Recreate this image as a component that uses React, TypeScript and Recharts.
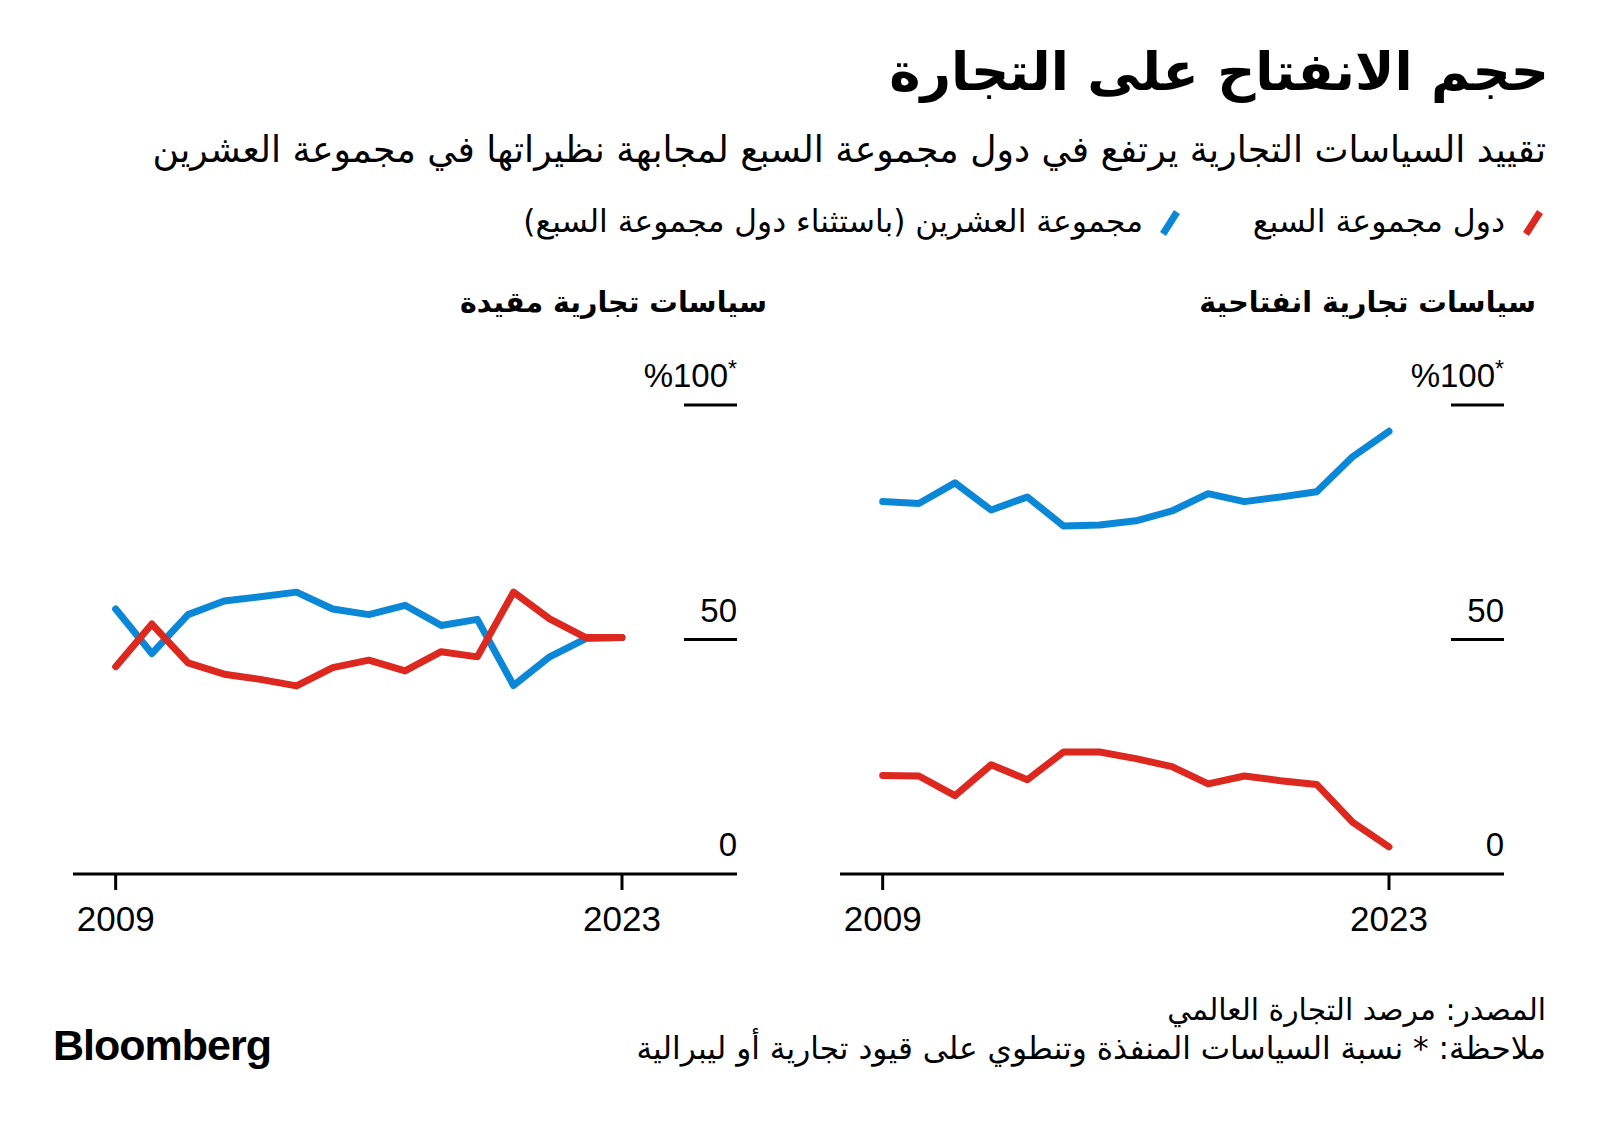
import { LineChart, Line, XAxis, YAxis } from "recharts";

const years = [2009, 2010, 2011, 2012, 2013, 2014, 2015, 2016, 2017, 2018, 2019, 2020, 2021, 2022, 2023];

// liberalising ("open") trade policies, share in %
const g7Liberal = [21.0, 20.9, 16.7, 23.3, 20.1, 26.0, 26.0, 24.6, 22.9, 19.2, 20.9, 19.9, 19.1, 11.0, 5.8];
const g20Liberal = [79.4, 79.0, 83.4, 77.6, 80.4, 74.2, 74.4, 75.3, 77.4, 81.1, 79.4, 80.4, 81.5, 89.0, 94.4];

// harmful ("restrictive") trade policies, share in %
const g7Harmful = [44.2, 53.3, 45.0, 42.6, 41.5, 40.1, 44.0, 45.6, 43.3, 47.4, 46.3, 60.1, 54.4, 50.4, 50.4];
const g20Harmful = [56.5, 47.0, 55.3, 58.2, 59.1, 60.1, 56.5, 55.3, 57.3, 53.0, 54.3, 40.2, 46.3, 50.2, 50.4];

const xTicks = [2009, 2023];
const yTicks = [0, 50, 100];

const RED = "#dc281e";
const BLUE = "#0b87d8";
const AR = "'DejaVu Sans', sans-serif";
const NUM = "'Liberation Sans', Arial, sans-serif";

const liberalData = years.map((year, i) => ({ year, g7: g7Liberal[i], g20: g20Liberal[i] }));
const harmfulData = years.map((year, i) => ({ year, g7: g7Harmful[i], g20: g20Harmful[i] }));

function YTick(props: any) {
  const { x, y, payload } = props;
  const v = payload.value;
  return (
    <g>
      {v !== 0 && <line x1={x - 53} x2={x} y1={y} y2={y} stroke="#000" strokeWidth={3} />}
      <text x={x} y={y - 18} textAnchor="end" fontSize={33} fontFamily={NUM} fill="#000">
        {v === 100 ? (
          <>
            %100
            <tspan dy={-10} fontSize={23}>*</tspan>
          </>
        ) : (
          v
        )}
      </text>
    </g>
  );
}

function Panel({ data, left }: { data: any[]; left: number }) {
  return (
    <div style={{ position: "absolute", left, top: 330 }}>
      <LineChart width={720} height={620} data={data} margin={{ top: 75, right: 35, bottom: 16, left: 20 }}>
        <XAxis
          dataKey="year"
          type="number"
          domain={[2007.82, 2026.18]}
          allowDataOverflow
          ticks={xTicks}
          interval={0}
          height={60}
          axisLine={{ stroke: "#000", strokeWidth: 3 }}
          tickLine={{ stroke: "#000", strokeWidth: 3 }}
          tickSize={16}
          tickMargin={16}
          tick={{ fontSize: 35, fill: "#000", fontFamily: NUM }}
        />
        <YAxis
          orientation="right"
          width={1}
          domain={[0, 100]}
          ticks={yTicks}
          interval={0}
          axisLine={false}
          tickLine={false}
          tickSize={0}
          tickMargin={0}
          tick={<YTick />}
        />
        <Line dataKey="g20" stroke={BLUE} strokeWidth={7} dot={false} strokeLinecap="round" strokeLinejoin="round" isAnimationActive={false} />
        <Line dataKey="g7" stroke={RED} strokeWidth={7} dot={false} strokeLinecap="round" strokeLinejoin="round" isAnimationActive={false} />
      </LineChart>
    </div>
  );
}

function Txt({ right, cy, size, bold, children }: { right: number; cy: number; size: number; bold?: boolean; children: any }) {
  return (
    <div
      dir="rtl"
      style={{
        position: "absolute",
        right: 1600 - right,
        top: cy,
        transform: "translateY(-50%)",
        fontFamily: AR,
        fontSize: size,
        fontWeight: bold ? 700 : 400,
        lineHeight: 1.2,
        whiteSpace: "nowrap",
        color: "#000",
      }}
    >
      {children}
    </div>
  );
}

function Slash({ color, x, cy }: { color: string; x: number; cy: number }) {
  return (
    <svg style={{ position: "absolute", left: x - 12, top: cy - 16 }} width={24} height={32}>
      <line x1={5} y1={27} x2={19} y2={5} stroke={color} strokeWidth={7} />
    </svg>
  );
}

export default function App() {
  return (
    <div style={{ position: "absolute", left: 0, top: 0, width: 1600, height: 1125, background: "#fff", overflow: "hidden" }}>
      <Txt right={1549} cy={72} size={53} bold>حجم الانفتاح على التجارة</Txt>
      <Txt right={1546} cy={150} size={36.2}>تقييد السياسات التجارية يرتفع في دول مجموعة السبع لمجابهة نظيراتها في مجموعة العشرين</Txt>

      <Slash color={RED} x={1533} cy={223} />
      <Txt right={1505} cy={222} size={31.5}>دول مجموعة السبع</Txt>
      <Slash color={BLUE} x={1170} cy={223} />
      <Txt right={1143} cy={222} size={31.3}>مجموعة العشرين (باستثناء دول مجموعة السبع)</Txt>

      <Txt right={767} cy={303} size={28.5} bold>سياسات تجارية مقيدة</Txt>
      <Txt right={1536} cy={303} size={28.5} bold>سياسات تجارية انفتاحية</Txt>

      <Panel data={harmfulData} left={53} />
      <Panel data={liberalData} left={820} />

      <Txt right={1546} cy={1010} size={29.8}>المصدر: مرصد التجارة العالمي</Txt>
      <Txt right={1546} cy={1049} size={31.2}>ملاحظة: * نسبة السياسات المنفذة وتنطوي على قيود تجارية أو ليبرالية</Txt>

      <div
        style={{
          position: "absolute",
          left: 53,
          top: 1046,
          transform: "translateY(-50%)",
          fontFamily: NUM,
          fontWeight: 700,
          fontSize: 43,
          letterSpacing: -1,
          lineHeight: 1.2,
          color: "#000",
        }}
      >
        Bloomberg
      </div>
    </div>
  );
}
